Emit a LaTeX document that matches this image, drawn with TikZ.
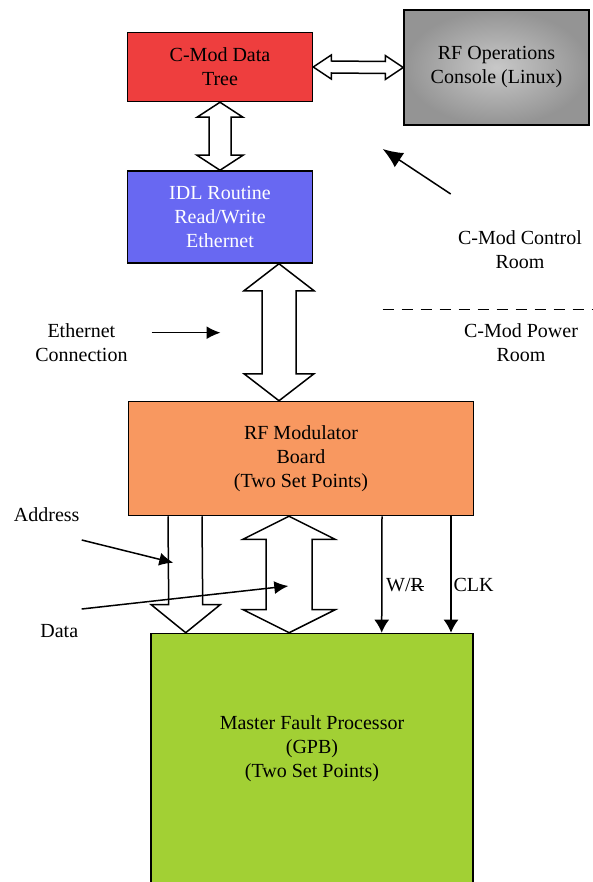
\documentclass[tikz,border=0pt]{standalone}
\usepackage{fontspec}
\setmainfont{Liberation Serif}
\usetikzlibrary{arrows.meta, calc}

\definecolor{treered}{RGB}{238,62,62}
\definecolor{idlblue}{RGB}{104,104,242}
\definecolor{modorange}{RGB}{248,152,96}
\definecolor{gpbgreen}{RGB}{162,208,52}
\definecolor{consoledark}{RGB}{148,148,148}
\definecolor{consolelight}{RGB}{200,200,200}

\tikzset{
  box/.style={draw, line width=1.5pt, rectangle, align=center,
    font=\fontsize{20}{24}\selectfont, inner sep=0pt},
  labeltext/.style={align=center, font=\fontsize{20}{24}\selectfont, inner sep=0pt},
  bus/.style={draw, line width=1.5pt, fill=white, line join=miter},
  pointer/.style={line width=1.5pt, arrows={-{Latex[length=14pt,width=13pt]}}},
  signal/.style={line width=1.5pt, arrows={-{Latex[length=13pt,width=15pt]}}},
}

\begin{document}
\begin{tikzpicture}[x=1pt, y=-1pt]
  \useasboundingbox (0,0) rectangle (592,882);
  \begin{scope}
    \clip (0,0) rectangle (592,882);

    % Draw boxes.
    \node[box, fill=treered, minimum width=185pt, minimum height=69pt] (tree) at (220,67) {C-Mod Data\\Tree};
    \node[box, shading=radial, inner color=consolelight, outer color=consoledark,
      minimum width=185pt, minimum height=115pt] (console) at (496.5,67.5) {RF Operations\\Console (Linux)};
    \node[box, fill=idlblue, text=white, minimum width=185pt, minimum height=92pt] (idl) at (220,217) {IDL Routine\\Read/Write\\Ethernet};
    \node[box, fill=modorange, minimum width=345pt, minimum height=114pt] (mod) at (301,458.5) {RF Modulator\\Board\\(Two Set Points)};
    \node[box, fill=gpbgreen, minimum width=322pt, minimum height=280pt, anchor=north] (gpb) at (312.2,632.7) {};
    \node[labeltext] (gpbtext) at (312,749) {Master Fault Processor\\(GPB)\\(Two Set Points)};

    % Draw tree <-> console bus.
    \draw[bus] (tree.east) -- ++(18,-12) -- ++(0,6) -- ($(console.west)+(-18,-6)$) -- ++(0,-6) -- (console.west)
      -- ++(-18,12) -- ++(0,-6) -- ($(tree.east)+(18,6)$) -- ++(0,6) -- cycle;

    % Draw tree <-> idl bus.
    \draw[bus] (tree.south) -- ++(23,15) -- ++(-12,0) -- ($(idl.north)+(11,-15)$) -- ++(12,0) -- (idl.north)
      -- ++(-23,-15) -- ++(12,0) -- ($(tree.south)+(-11,15)$) -- ++(-12,0) -- cycle;

    % Draw ethernet bus.
    \coordinate (ethtop) at ($(idl.south)+(59,0)$);
    \coordinate (ethbot) at ($(mod.north)+(-22,0)$);
    \draw[bus] (ethtop) -- ++(35,27) -- ++(-18,0) -- ($(ethbot)+(17,-27)$) -- ++(18,0) -- (ethbot)
      -- ++(-35,-27) -- ++(18,0) -- ($(ethtop)+(-17,27)$) -- ++(-18,0) -- cycle;

    % Draw address and data buses.
    \coordinate (addrtop) at ($(mod.south)+(-116,0)$);
    \coordinate (addrtip) at ($(gpb.north)+(-126.5,0)$);
    \draw[bus] ($(addrtop)+(-17,0)$) -- ($(addrtip)+(-17,-28)$) -- ++(-17.5,0) -- (addrtip)
      -- ++(34.5,-28) -- ++(-17.5,0) -- ($(addrtop)+(17,0)$);
    \coordinate (datatop) at ($(mod.south)+(-12,0)$);
    \coordinate (databot) at ($(gpb.north)+(-23,0)$);
    \draw[bus] (datatop) -- ++(46,23) -- ++(-23,0) -- ($(databot)+(23,-23)$) -- ++(23,0) -- (databot)
      -- ++(-46,-23) -- ++(23,0) -- ($(datatop)+(-23,23)$) -- ++(-23,0) -- cycle;

    % Draw W/R and CLK lines.
    \draw[signal] ($(mod.south)+(81,0)$) -- ($(gpb.north)+(69.5,0)$);
    \draw[signal] ($(mod.south)+(150,0)$) -- ($(gpb.north)+(138.8,0)$);
    \node[labeltext, anchor=west] (wr) at (386,585) {W/\makebox[0pt][l]{\rule[4.5pt]{13.5pt}{1pt}}R};
    \node[labeltext, anchor=west] (clk) at (453.3,585) {CLK};
  \end{scope}

  % Room labels.
  \node[labeltext] (control) at (520,250) {C-Mod Control\\Room};
  \node[labeltext] (power) at (521,343) {C-Mod Power\\Room};
  \draw[line width=1.5pt, dash pattern=on 11pt off 8pt] (382.6,309.3) -- (592,309.3);
  \coordinate (ctrltail) at (450.7,194);
  \coordinate (ctrltip) at (382.7,149);
  \draw[line width=1.5pt, arrows={-{Latex[length=20pt,width=17pt]}}] (ctrltail) -- (ctrltip);

  % Bus labels.
  \node[labeltext] (ethlabel) at (81.4,343) {Ethernet\\Connection};
  \coordinate (ethtail) at (151.5,332.7);
  \coordinate (ethtip) at (220.5,332.7);
  \draw[pointer] (ethtail) -- (ethtip);
  \node[labeltext] (addrlabel) at (46.7,515) {Address};
  \coordinate (addrtail) at (81.7,540);
  \coordinate (addrpoint) at (173.3,562.7);
  \draw[pointer] (addrtail) -- (addrpoint);
  \node[labeltext] (datalabel) at (59.3,631) {Data};
  \coordinate (datatail) at (81.7,609);
  \coordinate (datapoint) at (288.3,586);
  \draw[pointer] (datatail) -- (datapoint);
\end{tikzpicture}
\end{document}
